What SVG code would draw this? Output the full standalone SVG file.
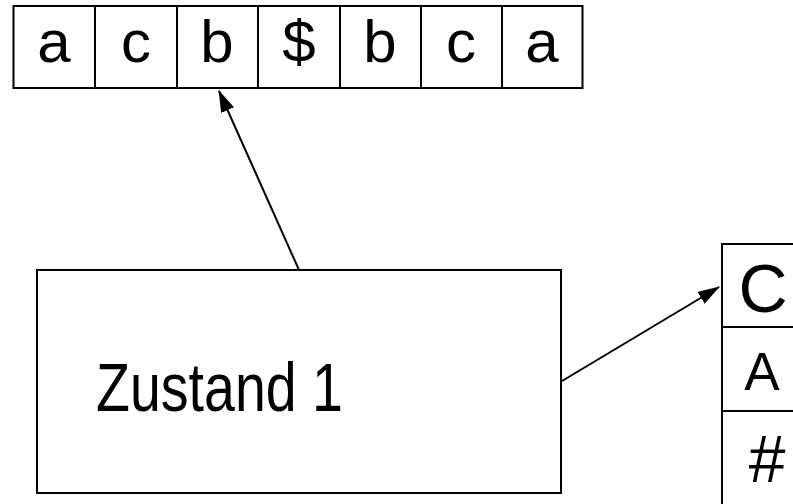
<svg xmlns="http://www.w3.org/2000/svg" width="793" height="504" viewBox="0 0 793 504">
<style>
.box{fill:#fff;stroke:#000;stroke-width:2}
.t{font-family:"Liberation Sans",Arial,sans-serif;fill:#000;text-anchor:middle}
.edge{stroke:#000;stroke-width:2;fill:none}
</style>
<defs>
<marker id="ah" markerWidth="22" markerHeight="14" refX="21" refY="7" orient="auto" markerUnits="userSpaceOnUse">
<path d="M0,0 L22,7 L0,14 Z" fill="#000"/>
</marker>
</defs>
<rect width="793" height="504" fill="#fff"/>
<g id="tape">
<rect class="box" x="13.5" y="6" width="569" height="82"/>
<g class="edge">
<line x1="95" y1="6" x2="95" y2="88"/>
<line x1="177" y1="6" x2="177" y2="88"/>
<line x1="258" y1="6" x2="258" y2="88"/>
<line x1="340" y1="6" x2="340" y2="88"/>
<line x1="421" y1="6" x2="421" y2="88"/>
<line x1="502" y1="6" x2="502" y2="88"/>
</g>
<g class="t" font-size="60">
<text x="54" y="62">a</text>
<text x="136" y="62">c</text>
<text x="217" y="62">b</text>
<text x="299" y="62">$</text>
<text x="380" y="62">b</text>
<text x="461" y="62">c</text>
<text x="542" y="62">a</text>
</g>
</g>
<g id="state">
<rect class="box" x="37" y="270" width="524" height="223"/>
<text class="t" x="96" y="411" font-size="68" style="text-anchor:start" textLength="247" lengthAdjust="spacingAndGlyphs">Zustand 1</text>
</g>
<g id="stack">
<rect class="box" x="722" y="244" width="84" height="280"/>
<line class="edge" x1="722" y1="327" x2="806" y2="327"/>
<line class="edge" x1="722" y1="411" x2="806" y2="411"/>
<text class="t" x="763" y="312" font-size="68">C</text>
<text class="t" x="762" y="390" font-size="53">A</text>
<text class="t" x="767" y="482" font-size="66">#</text>
</g>
<g id="connectors">
<line class="edge" x1="299" y1="270" x2="219" y2="91" marker-end="url(#ah)"/>
<line class="edge" x1="562" y1="381" x2="719" y2="287" marker-end="url(#ah)"/>
</g>
</svg>
